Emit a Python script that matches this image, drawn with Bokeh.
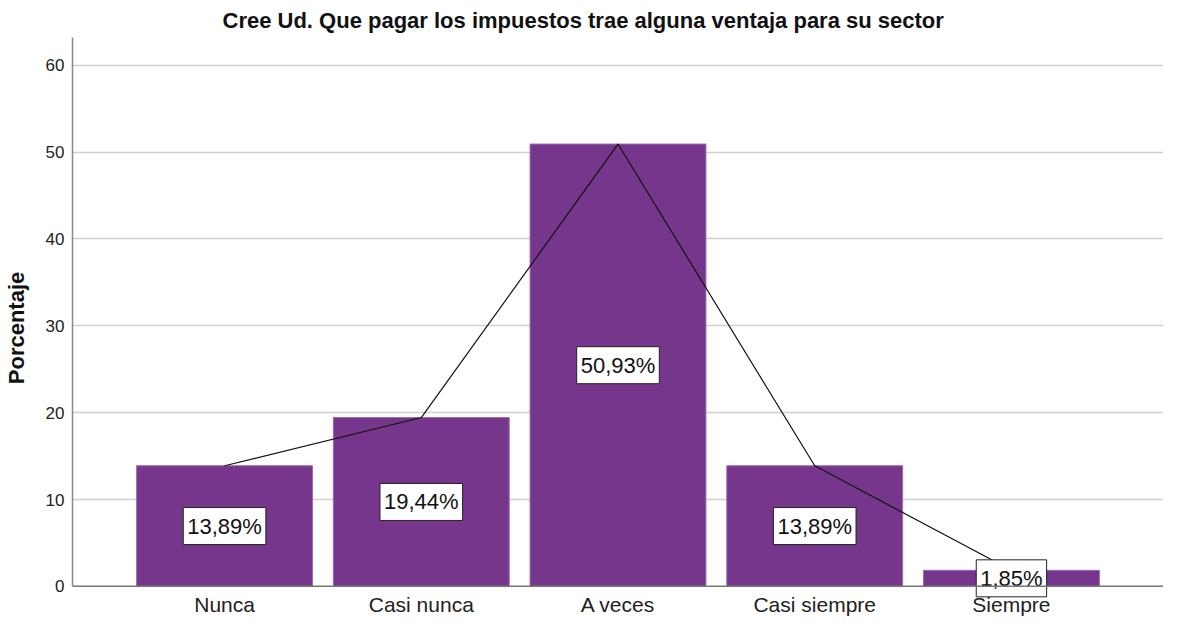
from bokeh.plotting import figure
from bokeh.models import (ColumnDataSource, FactorRange, Range1d, SingleIntervalTicker,
                          Title, Span)
from bokeh.core.properties import value
from bokeh.embed import file_html
from bokeh.resources import INLINE

categories = ["Nunca", "Casi nunca", "A veces", "Casi siempre", "Siempre"]
percentages = [13.89, 19.44, 50.93, 13.89, 1.85]
label_texts = ["13,89%", "19,44%", "50,93%", "13,89%", "1,85%"]

Y_TOP = 63.2
Y_BOTTOM = -3.7      # room below zero for the category labels
CAT_LABEL_Y = -0.8

src = ColumnDataSource(dict(
    cat=categories,
    pct=percentages,
    mid=[v / 2 for v in percentages],
    txt=label_texts,
    laby=[CAT_LABEL_Y] * len(categories),
))

FONT = "Liberation Sans"
PURPLE = "#76368c"

p = figure(
    width=1163, height=618,
    x_range=FactorRange(*categories, range_padding=0.273, range_padding_units="absolute"),
    y_range=Range1d(Y_BOTTOM, Y_TOP),
    output_backend="svg", toolbar_location=None,
    min_border_left=69, min_border_right=0, min_border_top=34, min_border_bottom=0,
)
p.title = Title(text="Cree Ud. Que pagar los impuestos trae alguna ventaja para su sector",
                align="left", offset=150, text_font=FONT, text_font_size="22px",
                text_font_style="bold", text_color="#111111")

p.vbar(x="cat", top="pct", bottom=0, width=0.894, source=src, fill_color=PURPLE,
       line_color="#9a6aae", line_width=1)
p.line(x="cat", y="pct", source=src, line_color="#111111", line_width=1.2)

p.text(x="cat", y="mid", text="txt", source=src,
       text_align="center", text_baseline="middle",
       text_font=value(FONT), text_font_size="22px", text_color="#111111",
       background_fill_color="white", border_line_color="#222222",
       border_line_width=1, padding=(4, 6))

# category labels under the baseline
p.text(x="cat", y="laby", text="cat", source=src,
       text_align="center", text_baseline="top",
       text_font=value(FONT), text_font_size="21px", text_color="#222222")

# x axis baseline
p.add_layout(Span(location=0, dimension="width", line_color="#777777", line_width=1.5))

p.outline_line_color = None
p.background_fill_color = "white"
p.border_fill_color = "white"

p.xaxis.visible = False
p.xgrid.grid_line_color = None
p.ygrid.grid_line_color = "#cfcfcf"
p.ygrid.grid_line_width = 1.5
p.ygrid.ticker = SingleIntervalTicker(interval=10)
p.ygrid.bounds = (10, Y_TOP)

p.yaxis.ticker = SingleIntervalTicker(interval=10)
p.yaxis.bounds = (0, Y_TOP)
p.yaxis.axis_label = "Porcentaje"
p.yaxis.axis_label_text_font = FONT
p.yaxis.axis_label_text_font_size = "22px"
p.yaxis.axis_label_text_font_style = "bold"
p.yaxis.axis_label_text_color = "#111111"
p.yaxis.axis_label_standoff = 14
p.yaxis.major_label_text_font = FONT
p.yaxis.major_label_text_font_size = "17px"
p.yaxis.major_label_text_color = "#222222"
p.yaxis.major_tick_line_color = None
p.yaxis.major_tick_out = 0
p.yaxis.major_tick_in = 0
p.yaxis.minor_tick_line_color = None
p.yaxis.axis_line_color = "#888888"
p.yaxis.axis_line_width = 1.5
p.yaxis.major_label_standoff = 4

open("out.html", "w").write(file_html(p, INLINE))
